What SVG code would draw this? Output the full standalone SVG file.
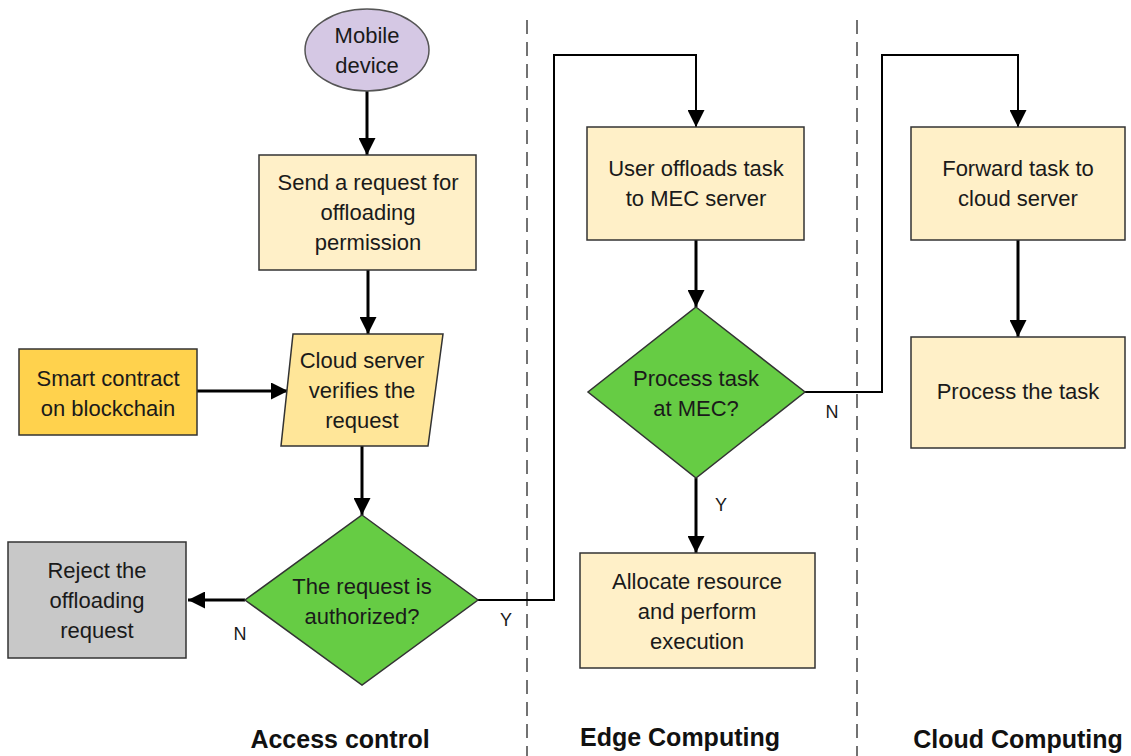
<svg xmlns="http://www.w3.org/2000/svg" width="1131" height="756" viewBox="0 0 1131 756">
<defs>
<marker id="ahb" viewBox="0 0 10 10" refX="10" refY="5" markerWidth="17" markerHeight="17" markerUnits="userSpaceOnUse" orient="auto">
<path d="M0,0 L10,5 L0,10 z" fill="#000"/>
</marker>
</defs>
<style>
text{font-family:"Liberation Sans","Open Sans",sans-serif;font-size:22px;fill:#1a1a1a;text-anchor:middle}
.lbl{font-size:18px}
.title{font-weight:bold;font-size:25px;fill:#111}
.box{fill:#FFF0C8;stroke:#333;stroke-width:1.5}
.dia{fill:#66CC44;stroke:#333;stroke-width:1.5}
.c{fill:none;stroke:#000;stroke-width:3;marker-end:url(#ahb)}
.cthin{fill:none;stroke:#000;stroke-width:2;marker-end:url(#ahb)}
.dash{stroke:#444;stroke-width:1.5;stroke-dasharray:14 8;fill:none}
</style>
<rect width="1131" height="756" fill="#fff"/>
<g id="lanes">
<line class="dash" x1="527" y1="20" x2="527" y2="756"/>
<line class="dash" x1="857" y1="20" x2="857" y2="756"/>
</g>
<g id="connectors">
<path class="c" d="M367,91 V155"/>
<path class="c" d="M368,270 V334"/>
<path class="c" d="M197,391 H288"/>
<path class="c" d="M362,446 V515"/>
<path class="c" d="M245,600 H188"/>
<path class="cthin" d="M478,600 H554 V55 H696 V127"/>
<path class="c" d="M696,240 V307"/>
<path class="c" d="M696,478 V553"/>
<path class="cthin" d="M805,392 H882 V55 H1018 V127"/>
<path class="c" d="M1018,240 V337"/>
<text class="lbl" x="240" y="640">N</text>
<text class="lbl" x="506" y="626">Y</text>
<text class="lbl" x="721" y="511">Y</text>
<text class="lbl" x="832" y="418">N</text>
</g>
<g id="mobile">
<ellipse cx="367" cy="50" rx="62" ry="41" fill="#D5C8E4" stroke="#555" stroke-width="1.5"/>
<text x="367" y="43">Mobile</text>
<text x="367" y="73">device</text>
</g>
<g id="send">
<rect class="box" x="259" y="155" width="217" height="115"/>
<text x="368" y="190">Send a request for</text>
<text x="368" y="220">offloading</text>
<text x="368" y="250">permission</text>
</g>
<g id="smart">
<rect x="19" y="349" width="178" height="86" fill="#FFD24D" stroke="#333" stroke-width="1.5"/>
<text x="108" y="386">Smart contract</text>
<text x="108" y="416">on blockchain</text>
</g>
<g id="verify">
<polygon points="293,334 443,334 428,446 281,446" fill="#FFE699" stroke="#333" stroke-width="1.5"/>
<text x="362" y="368">Cloud server</text>
<text x="362" y="398">verifies the</text>
<text x="362" y="428">request</text>
</g>
<g id="authorized">
<polygon class="dia" points="362,515 478,600 362,685 245,600"/>
<text x="362" y="594">The request is</text>
<text x="362" y="624">authorized?</text>
</g>
<g id="reject">
<rect x="8" y="542" width="178" height="116" fill="#C8C8C8" stroke="#333" stroke-width="1.5"/>
<text x="97" y="578">Reject the</text>
<text x="97" y="608">offloading</text>
<text x="97" y="638">request</text>
</g>
<g id="useroffload">
<rect class="box" x="587" y="127" width="217" height="113"/>
<text x="696" y="176">User offloads task</text>
<text x="696" y="206">to MEC server</text>
</g>
<g id="processmec">
<polygon class="dia" points="696,307 805,392 696,478 588,392"/>
<text x="696" y="386">Process task</text>
<text x="696" y="416">at MEC?</text>
</g>
<g id="allocate">
<rect class="box" x="580" y="553" width="235" height="115"/>
<text x="697" y="589">Allocate resource</text>
<text x="697" y="619">and perform</text>
<text x="697" y="649">execution</text>
</g>
<g id="forward">
<rect class="box" x="911" y="127" width="214" height="113"/>
<text x="1018" y="176">Forward task to</text>
<text x="1018" y="206">cloud server</text>
</g>
<g id="processtask">
<rect class="box" x="911" y="337" width="214" height="111"/>
<text x="1018" y="399">Process the task</text>
</g>
<g id="titles">
<text class="title" x="340" y="748">Access control</text>
<text class="title" x="680" y="746">Edge Computing</text>
<text class="title" x="1018" y="748">Cloud Computing</text>
</g>
</svg>
